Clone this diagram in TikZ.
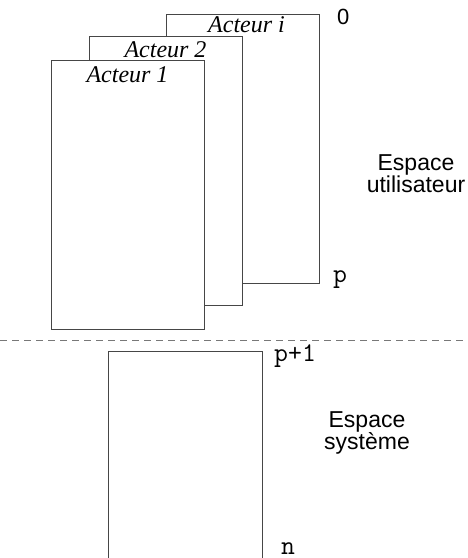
\documentclass[tikz,border=0pt]{standalone}
\usepackage{fontspec}
\setmainfont{Liberation Serif}
\setsansfont{Liberation Sans}
\usepackage{xcolor}
\usetikzlibrary{positioning,calc}
\definecolor{framegrey}{RGB}{70,70,70}
\definecolor{dashgrey}{RGB}{120,120,120}
\tikzset{
  actbox/.style  ={draw=framegrey, fill=white, line width=0.9pt, inner sep=0pt,
                   minimum width=153pt, minimum height=269pt, anchor=north west},
  sysbox/.style  ={draw=framegrey, fill=white, line width=0.9pt, inner sep=0pt,
                   minimum width=154pt, minimum height=240pt, anchor=north west},
  actlbl/.style  ={font=\fontsize{24}{26}\selectfont\itshape, inner sep=0pt, anchor=base},
  lvllbl/.style  ={font=\fontsize{27}{28}\selectfont\ttfamily, inner sep=0pt, anchor=base west},
  zonelbl/.style ={font=\fontsize{23}{20}\selectfont\sffamily, align=center, inner sep=0pt},
  sepline/.style ={draw=dashgrey, line width=0.9pt, dash pattern=on 7pt off 5pt},
}
\begin{document}
\begin{tikzpicture}[x=1pt,y=1pt]
\clip (0,0) rectangle (467,558);

% user space: one frame per actor, back to front
\node[actbox] (acti) at (166,544) {};
\node[actbox] (act2) at (89,522) {};
\node[actbox] (act1) at (51,498) {};
\node[actlbl] (lbli) at (246.5,525) {Acteur i};
\node[actlbl] (lbl2) at (165.5,500) {Acteur 2};
\node[actlbl] (lbl1) at (127.5,475) {Acteur 1};

% address bounds of the user space
\node[lvllbl,font=\fontsize{22}{24}\selectfont\sffamily] (top) at (337,533) {0};
\node[lvllbl] (low) at (333,275) {p};
\node[zonelbl,anchor=base] (usr) at (416,365) {Espace\\utilisateur};

% user / system boundary
\coordinate (sepL) at (0,218);
\coordinate (sepR) at (467,218);
\draw[sepline] (sepL) -- (sepR);

% system space
\node[sysbox] (sys) at (108,207) {};
\node[lvllbl] (high) at (274,196) {p+1};
\node[lvllbl] (last) at (281,3.5) {n};
\node[zonelbl,anchor=base] (krn) at (367,108) {Espace\\système};
\end{tikzpicture}
\end{document}
